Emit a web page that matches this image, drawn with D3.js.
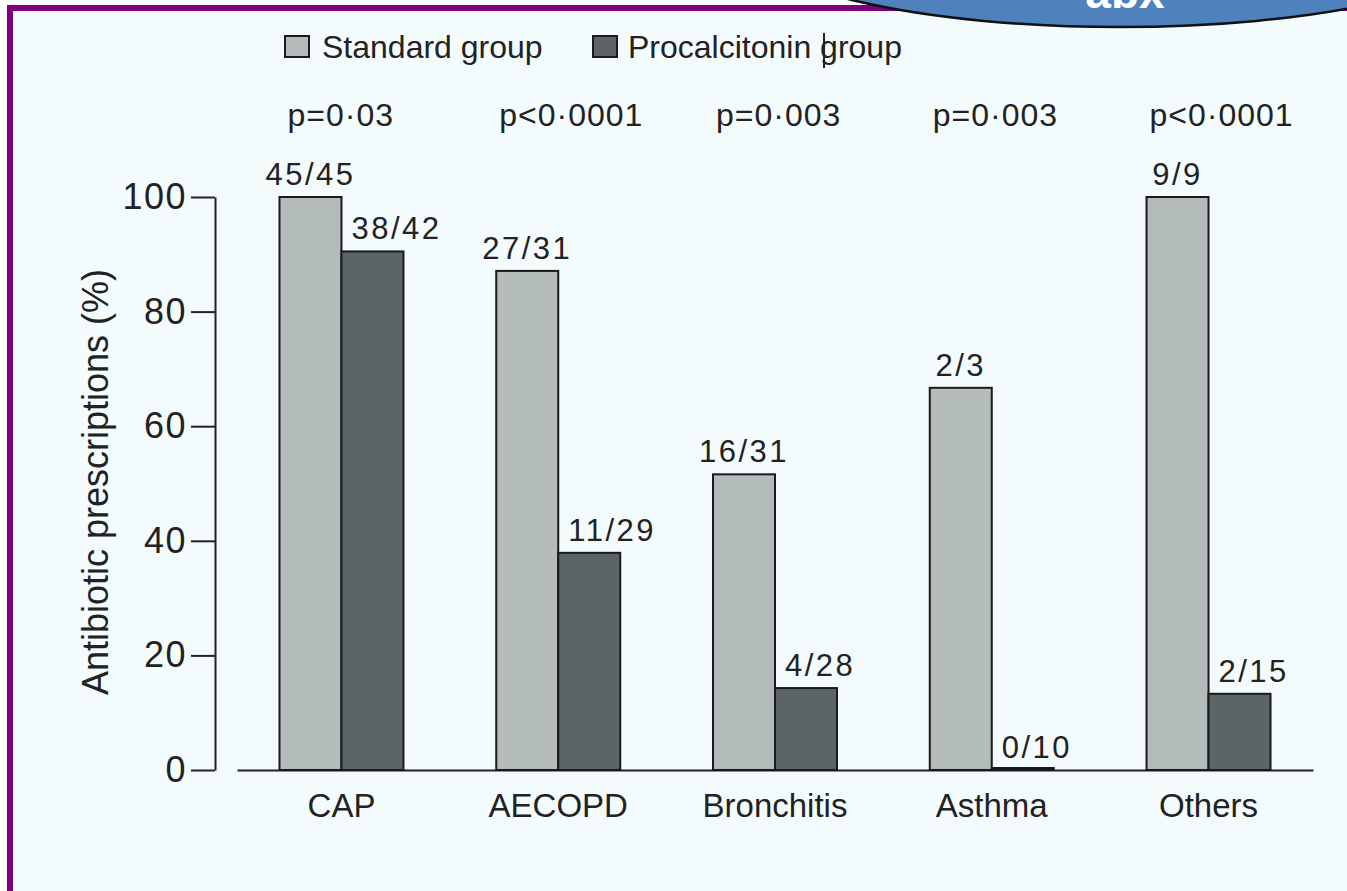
<!DOCTYPE html>
<html>
<head>
<meta charset="utf-8">
<script src="https://cdn.jsdelivr.net/npm/d3@7/dist/d3.min.js"></script>
<style>
  html, body { margin: 0; padding: 0; background: #ffffff; }
  svg { display: block; }
  text { font-family: "Liberation Sans", Arial, sans-serif; fill: #222; }
</style>
</head>
<body>
<svg id="chart" width="1347" height="891"></svg>
<script>
// ---- data ----
const categories = ["CAP", "AECOPD", "Bronchitis", "Asthma", "Others"];
const seriesNames = ["Standard group", "Procalcitonin group"];
const standardValues = [100, 87.1, 51.6, 66.7, 100];
const procalcitoninValues = [90.5, 37.9, 14.3, 0, 13.3];
const standardLabels = ["45/45", "27/31", "16/31", "2/3", "9/9"];
const procalcitoninLabels = ["38/42", "11/29", "4/28", "0/10", "2/15"];
const pValues = ["p=0\u00b703", "p<0\u00b70001", "p=0\u00b7003", "p=0\u00b7003", "p<0\u00b70001"];
const yTicks = [0, 20, 40, 60, 80, 100];
const yTitle = "Antibiotic prescriptions (%)";
const badgeText = "abx";

const seriesColors = ["#b3bbbb", "#5c6566"];

const svg = d3.select("#chart");
const W = 1347, H = 891;

// background + purple frame
svg.append("rect").attr("x", 0).attr("y", 0).attr("width", W).attr("height", H).attr("fill", "#ffffff");
svg.append("rect").attr("x", 10).attr("y", 8).attr("width", W + 40).attr("height", H + 40)
  .attr("fill", "#f3fbfd").attr("stroke", "#800080").attr("stroke-width", 6);

// scales
const x0 = d3.scaleBand().domain(categories).range([237, 1313])
  .paddingInner(0.428).paddingOuter(0.196);
const x1 = d3.scaleBand().domain(seriesNames).range([0, x0.bandwidth()]).padding(0);
const y = d3.scaleLinear().domain([0, 100]).range([770, 197]);

const rows = categories.map((c, i) => ({
  cat: c,
  vals: [
    {s: seriesNames[0], v: standardValues[i], lab: standardLabels[i]},
    {s: seriesNames[1], v: procalcitoninValues[i], lab: procalcitoninLabels[i]}
  ]
}));

// y axis
const yAxis = d3.axisLeft(y).tickValues(yTicks).tickSize(24).tickSizeOuter(0).tickPadding(4);
const gy = svg.append("g").attr("transform", "translate(215,0)").call(yAxis);
gy.selectAll("path, line").attr("stroke", "#222").attr("stroke-width", 2);
gy.selectAll("text").style("font-size", "36px").style("letter-spacing", "1.5px")
  .attr("fill", "#222").style("font-family", "Liberation Sans, Arial, sans-serif");

// y title
svg.append("text")
  .attr("transform", "translate(108,482) rotate(-90)")
  .attr("text-anchor", "middle")
  .style("font-size", "36px")
  .text(yTitle);

// x axis (baseline + category labels)
const xAxis = d3.axisBottom(x0).tickSize(0).tickPadding(24).tickSizeOuter(0);
const gx = svg.append("g").attr("transform", "translate(0,770)").call(xAxis);
gx.select("path").attr("stroke", "#222").attr("stroke-width", 2);
gx.selectAll("text").style("font-size", "33px").attr("fill", "#222")
  .style("font-family", "Liberation Sans, Arial, sans-serif");

// bars
const groups = svg.append("g").selectAll("g").data(rows).join("g")
  .attr("transform", d => `translate(${x0(d.cat)},0)`);

groups.selectAll("rect").data(d => d.vals).join("rect")
  .attr("x", d => x1(d.s))
  .attr("width", x1.bandwidth())
  .attr("y", d => Math.min(y(d.v), y(0) - 2))
  .attr("height", d => Math.max(y(0) - y(d.v), 2))
  .attr("fill", (d, i) => seriesColors[i])
  .attr("stroke", "#1a1a1a").attr("stroke-width", 2);

// value labels
groups.selectAll("text.val").data(d => d.vals).join("text")
  .attr("class", "val")
  .attr("x", (d, i) => i === 0 ? x1(d.s) + x1.bandwidth() / 2 : x1(d.s) + 10)
  .attr("y", d => y(d.v) - 12)
  .attr("text-anchor", (d, i) => i === 0 ? "middle" : "start")
  .style("font-size", "31px")
  .style("letter-spacing", "2.5px")
  .text(d => d.lab);

// p values
svg.append("g").selectAll("text").data(categories).join("text")
  .attr("x", (c, i) => x0(c) + (i === 0 ? 8 : 3))
  .attr("y", 126)
  .style("font-size", "32px")
  .style("letter-spacing", "1px")
  .text((c, i) => pValues[i]);

// legend
const legendX = [285, 593];
const legendTextX = [322, 628];
const lg = svg.append("g");
seriesNames.forEach((s, i) => {
  lg.append("rect").attr("x", legendX[i]).attr("y", 36).attr("width", 24).attr("height", 21)
    .attr("fill", seriesColors[i]).attr("stroke", "#1a1a1a").attr("stroke-width", 2);
  lg.append("text").attr("x", legendTextX[i]).attr("y", 58)
    .style("font-size", "32px").text(s);
});
// text caret artifact in the legend
lg.append("line").attr("x1", 824).attr("x2", 824).attr("y1", 33).attr("y2", 68)
  .attr("stroke", "#222").attr("stroke-width", 2);

// blue badge top-right
svg.append("ellipse").attr("cx", 1120).attr("cy", -60).attr("rx", 370).attr("ry", 87)
  .attr("fill", "#4f81bd").attr("stroke", "#111").attr("stroke-width", 2.5);
svg.append("text").attr("x", 1125).attr("y", 8).attr("text-anchor", "middle")
  .style("font-size", "46px").style("font-weight", "bold").attr("fill", "#ffffff")
  .style("fill", "#ffffff").text(badgeText);
</script>
</body>
</html>
